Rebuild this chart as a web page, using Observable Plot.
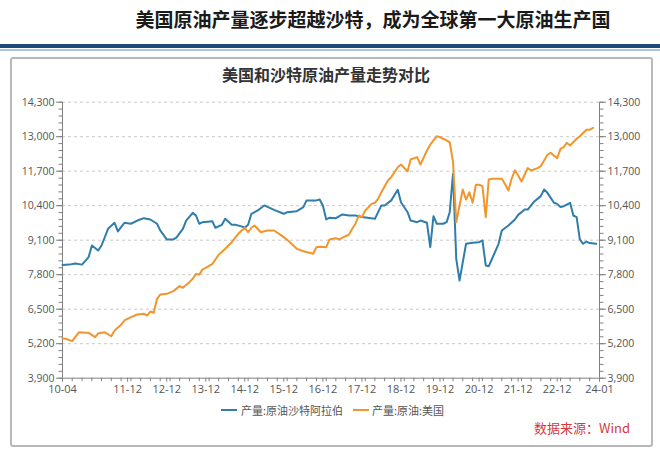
<!DOCTYPE html>
<html>
<head>
<meta charset="utf-8">
<script src="https://cdn.jsdelivr.net/npm/d3@7"></script>
<script src="https://cdn.jsdelivr.net/npm/@observablehq/plot@0.6"></script>
<style>
  html, body { margin: 0; padding: 0; background: #fff; }
  #page { position: relative; width: 660px; height: 451px; overflow: hidden; font-family: "Noto Sans CJK SC", sans-serif; }
  #title { position: absolute; left: 0; width: 746px; top: 6px; text-align: center; font-size: 19px; font-weight: bold; color: #1a1a1a; line-height: 26px; }
  #band { position: absolute; left: 0; top: 44px; width: 660px; height: 4px; background: #1f4a7c; }
  #band2 { position: absolute; left: 0; top: 49px; width: 660px; height: 2px; background: #a9c7e2; }
  #frame { position: absolute; left: 10px; top: 57px; width: 643px; height: 390px; box-sizing: border-box; border: 2px solid #b8b8b8; border-radius: 3px; }
  #ctitle { position: absolute; left: 0; width: 652px; top: 63px; text-align: center; font-size: 16px; font-weight: bold; color: #333; line-height: 22px; }
  #chart { position: absolute; left: 0; top: 0; }
  .lg { position: absolute; top: 402px; font-size: 11px; color: #555; line-height: 16px; }
  .sw { position: absolute; top: 409px; width: 16px; height: 2px; }
  #src { position: absolute; top: 419px; right: 30px; font-size: 13px; color: #d23b3b; line-height: 18px; }
</style>
</head>
<body>
<div id="page">
  <div id="title">美国原油产量逐步超越沙特，成为全球第一大原油生产国</div>
  <div id="band"></div>
  <div id="band2"></div>
  <div id="frame"></div>
  <div id="ctitle">美国和沙特原油产量走势对比</div>
  <div id="chart"></div>
  <div class="sw" style="left:221px;background:#2f7dab"></div>
  <div class="lg" style="left:241px">产量:原油沙特阿拉伯</div>
  <div class="sw" style="left:353px;background:#f0962c"></div>
  <div class="lg" style="left:372px">产量:原油:美国</div>
  <div id="src">数据来源：Wind</div>
</div>
<script>
// Saudi Arabia crude oil production (thousand bbl/d)
const saudiDates = ["2010-04","2010-06","2010-08","2010-10","2010-12","2011-01","2011-03","2011-04","2011-06","2011-08","2011-09","2011-11","2012-01","2012-03","2012-05","2012-07","2012-09","2012-10","2012-12","2013-02","2013-03","2013-05","2013-06","2013-08","2013-09","2013-10","2013-11","2014-02","2014-03","2014-05","2014-06","2014-08","2014-09","2014-11","2014-12","2015-01","2015-02","2015-04","2015-06","2015-09","2015-12","2016-01","2016-04","2016-06","2016-07","2016-10","2016-11","2016-12","2017-01","2017-02","2017-04","2017-06","2017-08","2017-10","2017-12","2018-04","2018-06","2018-07","2018-09","2018-11","2018-12","2019-02","2019-03","2019-05","2019-06","2019-08","2019-09","2019-10","2019-11","2020-01","2020-02","2020-03","2020-04","2020-05","2020-06","2020-07","2020-08","2020-10","2020-12","2021-01","2021-02","2021-03","2021-04","2021-06","2021-07","2021-09","2021-11","2021-12","2022-02","2022-03","2022-04","2022-05","2022-07","2022-08","2022-09","2022-11","2022-12","2023-01","2023-02","2023-04","2023-05","2023-06","2023-07","2023-08","2023-09","2023-10","2023-12"];
const saudiValues = [8170,8180,8220,8180,8460,8900,8710,8900,9530,9755,9430,9755,9720,9840,9930,9880,9720,9470,9130,9130,9200,9530,9840,10130,10030,9720,9780,9810,9570,9680,9905,9680,9680,9620,9570,9680,10095,10220,10410,10245,10095,10155,10195,10345,10600,10600,10635,10400,9880,9950,9930,10070,10030,10030,9970,9905,10410,10410,10600,11000,10530,10155,9840,9780,9840,9755,8835,10005,9720,9720,9780,10155,11600,8400,7580,8270,8965,9000,9025,9090,8150,8120,8400,8965,9465,9655,9880,10055,10255,10255,10410,10560,10760,11010,10885,10510,10470,10345,10380,10510,10030,9970,9130,8965,9050,8990,8965];

// United States crude oil production (thousand bbl/d)
const usDates = ["2010-04","2010-05","2010-07","2010-09","2010-11","2010-12","2011-02","2011-03","2011-05","2011-07","2011-08","2011-10","2011-11","2012-01","2012-03","2012-05","2012-06","2012-07","2012-08","2012-09","2012-10","2012-12","2013-02","2013-04","2013-05","2013-07","2013-08","2013-09","2013-10","2013-11","2013-12","2014-02","2014-04","2014-06","2014-08","2014-10","2014-12","2015-01","2015-02","2015-03","2015-05","2015-07","2015-09","2015-11","2016-01","2016-04","2016-06","2016-09","2016-10","2016-11","2017-01","2017-02","2017-04","2017-05","2017-07","2017-08","2017-09","2017-10","2017-11","2017-12","2018-01","2018-03","2018-04","2018-05","2018-06","2018-08","2018-09","2018-11","2018-12","2019-02","2019-03","2019-05","2019-06","2019-08","2019-09","2019-11","2019-12","2020-02","2020-03","2020-04","2020-05","2020-06","2020-07","2020-08","2020-09","2020-10","2020-11","2020-12","2021-01","2021-02","2021-03","2021-04","2021-07","2021-08","2021-09","2021-10","2021-11","2021-12","2022-01","2022-03","2022-04","2022-06","2022-07","2022-09","2022-10","2022-12","2023-01","2023-02","2023-03","2023-04","2023-06","2023-07","2023-09","2023-10","2023-11"];
const usValues = [5400,5385,5295,5630,5610,5610,5445,5590,5630,5480,5700,5910,6075,6200,6300,6330,6260,6413,6365,6890,7050,7080,7180,7370,7305,7520,7645,7830,7795,8000,8060,8210,8550,8775,9025,9340,9570,9400,9570,9655,9400,9465,9465,9300,9115,8775,8685,8590,8835,8850,8835,9130,9175,9130,9250,9305,9530,9720,10030,9970,10220,10470,10510,10660,10910,11350,11475,11850,11950,11700,12140,12230,11950,12480,12700,13020,12980,12860,12790,12040,9780,10410,11010,10630,10910,10510,11190,11190,11135,9970,11390,11415,11415,11210,10970,11415,11730,11540,11310,11815,11725,11815,11890,12320,12390,12190,12540,12605,12770,12670,12920,13020,13260,13260,13335];

const seriesNames = ["产量:原油沙特阿拉伯", "产量:原油:美国"];
const xTickLabels = ["2010-04","2011-12","2012-12","2013-12","2014-12","2015-12","2016-12","2017-12","2018-12","2019-12","2020-12","2021-12","2022-12","2024-01"];
const yTicks = [3900,5200,6500,7800,9100,10400,11700,13000,14300];

const parse = d3.utcParse("%Y-%m");
const rows = [
  ...saudiDates.map((d, i) => ({date: parse(d), value: saudiValues[i], series: seriesNames[0]})),
  ...usDates.map((d, i) => ({date: parse(d), value: usValues[i], series: seriesNames[1]}))
];
const xDomain = [parse(xTickLabels[0]), parse(xTickLabels[xTickLabels.length - 1])];
const xTicks = xTickLabels.map(parse);
const xMinor = d3.utcMonth.every(3).range(xDomain[0], d3.utcMonth.offset(xDomain[1], 1));
const yMinor = d3.range(yTicks[0], yTicks[yTicks.length - 1] + 1, 260);

const axisStyle = {stroke: "#808080", fill: "#555", fontSize: 10.5};

const chart = Plot.plot({
  width: 660,
  height: 451,
  marginLeft: 62,
  marginRight: 61,
  marginTop: 101.7,
  marginBottom: 73.3,
  style: {fontFamily: "'Open Sans', sans-serif", background: "transparent", color: "#555"},
  x: {type: "utc", domain: xDomain},
  y: {domain: [yTicks[0], yTicks[yTicks.length - 1]]},
  color: {domain: seriesNames, range: ["#2f7dab", "#f0962c"]},
  marks: [
    Plot.gridY(yTicks.slice(1), {stroke: "#c9c9c9", strokeOpacity: 1, strokeDasharray: "3,3"}),
    Plot.axisY(yMinor, {anchor: "left", tickSize: 3.5, tickFormat: () => "", stroke: "#808080", label: null}),
    Plot.axisY(yMinor, {anchor: "right", tickSize: 3.5, tickFormat: () => "", stroke: "#808080", label: null}),
    Plot.axisY(yTicks, {anchor: "left", tickSize: 6, tickPadding: 2, tickFormat: d3.format(","), label: null, ...axisStyle}),
    Plot.axisY(yTicks, {anchor: "right", tickSize: 6, tickPadding: 2, tickFormat: d3.format(","), label: null, ...axisStyle}),
    Plot.axisX(xMinor, {tickSize: 3.5, tickFormat: () => "", stroke: "#808080", label: null}),
    Plot.axisX(xTicks, {tickSize: 4, tickPadding: 3, tickFormat: d3.utcFormat("%y-%m"), label: null, ...axisStyle, fontSize: 11}),
    Plot.ruleX(xDomain, {stroke: "#808080"}),
    Plot.ruleY([yTicks[0]], {stroke: "#808080"}),
    Plot.lineY(rows, {x: "date", y: "value", stroke: "series", strokeWidth: 2, curve: "linear"})
  ]
});
document.getElementById("chart").appendChild(chart);
</script>
</body>
</html>
